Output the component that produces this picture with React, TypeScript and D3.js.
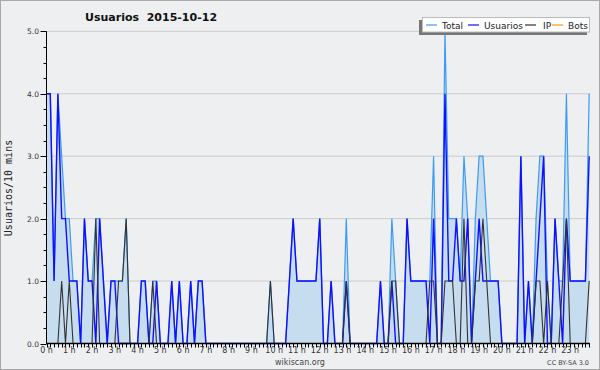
import React from "react";
import * as d3 from "d3";

// 10-minute slots, 144 per day
const usuarios = [
  4, 4, 1, 4, 2, 2, 1, 1, 1, 0, 2, 1, 1, 0, 2, 1, 0, 1, 1, 0, 0, 0, 0, 0,
  0, 1, 1, 0, 0, 1, 0, 0, 0, 1, 0, 1, 0, 0, 1, 0, 1, 1, 0, 0, 0, 0, 0, 0,
  0, 0, 0, 0, 0, 0, 0, 0, 0, 0, 0, 0, 0, 0, 0, 0, 1, 2, 1, 1, 1, 1, 1, 1,
  2, 0, 0, 1, 0, 0, 0, 1, 0, 0, 0, 0, 0, 0, 0, 0, 1, 0, 0, 1, 0, 0, 0, 2,
  1, 1, 1, 1, 1, 0, 2, 0, 0, 4, 1, 1, 2, 1, 1, 2, 0, 1, 2, 1, 1, 1, 1, 1,
  0, 0, 0, 0, 0, 3, 0, 1, 0, 1, 2, 3, 0, 0, 2, 1, 0, 2, 1, 1, 1, 1, 1, 3,
];
const ip = [
  0, 0, 0, 0, 1, 0, 1, 0, 0, 0, 0, 0, 0, 2, 0, 0, 0, 0, 0, 1, 1, 2, 0, 0,
  0, 0, 0, 0, 1, 0, 0, 0, 0, 0, 0, 0, 0, 0, 0, 0, 0, 0, 0, 0, 0, 0, 0, 0,
  0, 0, 0, 0, 0, 0, 0, 0, 0, 0, 0, 1, 0, 0, 0, 0, 0, 0, 0, 0, 0, 0, 0, 0,
  0, 0, 0, 0, 0, 0, 0, 1, 0, 0, 0, 0, 0, 0, 0, 0, 0, 0, 0, 1, 1, 0, 0, 0,
  0, 0, 0, 0, 0, 1, 1, 0, 0, 1, 1, 1, 0, 0, 2, 0, 0, 1, 1, 2, 1, 0, 0, 0,
  0, 0, 0, 0, 0, 0, 0, 0, 0, 1, 1, 0, 1, 0, 0, 0, 1, 2, 0, 0, 0, 0, 0, 1,
];
const total = [
  4, 4, 1, 4, 3, 2, 2, 1, 1, 0, 2, 1, 1, 2, 2, 1, 0, 1, 1, 1, 1, 2, 0, 0,
  0, 1, 1, 0, 1, 1, 0, 0, 0, 1, 0, 1, 0, 0, 1, 0, 1, 1, 0, 0, 0, 0, 0, 0,
  0, 0, 0, 0, 0, 0, 0, 0, 0, 0, 0, 1, 0, 0, 0, 0, 1, 2, 1, 1, 1, 1, 1, 1,
  2, 0, 0, 1, 0, 0, 0, 2, 0, 0, 0, 0, 0, 0, 0, 0, 1, 0, 0, 2, 1, 0, 0, 2,
  1, 1, 1, 1, 1, 1, 3, 0, 0, 5, 2, 2, 2, 1, 3, 2, 0, 2, 3, 3, 2, 1, 1, 1,
  0, 0, 0, 0, 0, 3, 0, 1, 0, 2, 3, 3, 1, 0, 2, 1, 1, 4, 1, 1, 1, 1, 1, 4,
];
const bots = new Array(144).fill(0);

const yTicks = [0, 1, 2, 3, 4, 5];
const hourTicks = d3.range(0, 24);

const W = 600;
const H = 370;
const left = 46.5;
const right = 590;
const top = 31.3;
const bottom = 343.5;

export default function App() {
  const x = d3.scaleLinear().domain([0, 24]).range([left, left + 24 * 22.77]);
  const y = d3.scaleLinear().domain([0, 5]).range([bottom, top]);
  const xi = (i: number) => x(i / 6);

  const area = d3
    .area<number>()
    .x((_, i) => xi(i))
    .y0(y(0))
    .y1((d) => y(d));
  const line = d3
    .line<number>()
    .x((_, i) => xi(i))
    .y((d) => y(d));

  const minorY = d3.range(0, 5.001, 0.25);
  const minorX = d3.range(0, 144);

  const legend = [
    { name: "Total", color: "#3d9bf5", lx: 426, tx: 442 },
    { name: "Usuarios", color: "#1010ff", lx: 468, tx: 484 },
    { name: "IP", color: "#333333", lx: 525, tx: 543 },
    { name: "Bots", color: "#ff9900", lx: 552, tx: 568 },
  ];

  return (
    <div>
      <style>{`body{margin:0}`}</style>
      <svg width={W} height={H} style={{ display: "block" }}>
        <rect x={0.5} y={0.5} width={W - 1} height={H - 1} fill="#eeeff1" stroke="#a8a8a8" />
        {/* grid */}
        {yTicks.map((t) => (
          <line key={"g" + t} x1={left} x2={right} y1={y(t)} y2={y(t)} stroke="#cccccc" strokeWidth={1} />
        ))}
        {/* series */}
        <path d={area(total) || ""} fill="#c6dcef" />
        <path d={line(bots) || ""} fill="none" stroke="#ff9900" strokeWidth={1.2} />
        <path d={line(total) || ""} fill="none" stroke="#3d9bf5" strokeWidth={1.2} />
        <path d={line(usuarios) || ""} fill="none" stroke="#1010ff" strokeWidth={1.4} />
        <path d={line(ip) || ""} fill="none" stroke="#333333" strokeWidth={1.1} />
        {/* axes */}
        <line x1={left} x2={left} y1={top} y2={bottom} stroke="#000" />
        {minorY.map((t) => (
          <line
            key={"yt" + t}
            x1={Number.isInteger(t) ? left - 6 : left - 3}
            x2={left}
            y1={Math.round(y(t)) + 0.5}
            y2={Math.round(y(t)) + 0.5}
            stroke="#000"
          />
        ))}
        {yTicks.map((t) => (
          <text
            key={"yl" + t}
            x={39}
            y={y(t) + 3}
            textAnchor="end"
            fontFamily="DejaVu Sans"
            fontSize={7.5}
            fill="#333"
          >
            {t.toFixed(1)}
          </text>
        ))}
        <line x1={left} x2={right} y1={bottom} y2={bottom} stroke="#000" strokeWidth={1.5} />
        {minorX.map((i) => (
          <line
            key={"xt" + i}
            x1={Math.round(xi(i)) + 0.5}
            x2={Math.round(xi(i)) + 0.5}
            y1={bottom}
            y2={bottom + 4}
            stroke="#000"
          />
        ))}
        {hourTicks.map((h) => (
          <text
            key={"xl" + h}
            x={x(h)}
            y={353}
            textAnchor="middle"
            fontFamily="DejaVu Sans"
            fontSize={8}
            fill="#333"
          >
            {h + " h"}
          </text>
        ))}
        {/* titles */}
        <text x={85} y={21} fontFamily="DejaVu Sans" fontWeight="bold" fontSize={11} fill="#111" style={{ whiteSpace: "pre" }}>
          {"Usuarios  2015-10-12"}
        </text>
        <text
          transform={`translate(12,${188}) rotate(-90)`}
          textAnchor="middle"
          fontFamily="DejaVu Sans Mono"
          fontSize={10}
          fill="#222"
        >
          Usuarios/10 mins
        </text>
        <text x={300} y={365} textAnchor="middle" fontFamily="DejaVu Sans" fontSize={8} fill="#444">
          wikiscan.org
        </text>
        <text x={589} y={365} textAnchor="end" fontFamily="DejaVu Sans" fontSize={6.5} fill="#444">
          CC BY-SA 3.0
        </text>
        {/* legend */}
        <rect x={419} y={20} width={168} height={15} fill="#777" />
        <rect x={422.5} y={17.5} width={167} height={14.5} fill="#fff" stroke="#bbb" />
        {legend.map((l) => (
          <g key={l.name}>
            <line x1={l.lx} x2={l.lx + 11} y1={25} y2={25} stroke={l.color} strokeWidth={1.2} />
            <text x={l.tx} y={28.5} fontFamily="DejaVu Sans" fontSize={9} fill="#222">
              {l.name}
            </text>
          </g>
        ))}
      </svg>
    </div>
  );
}
